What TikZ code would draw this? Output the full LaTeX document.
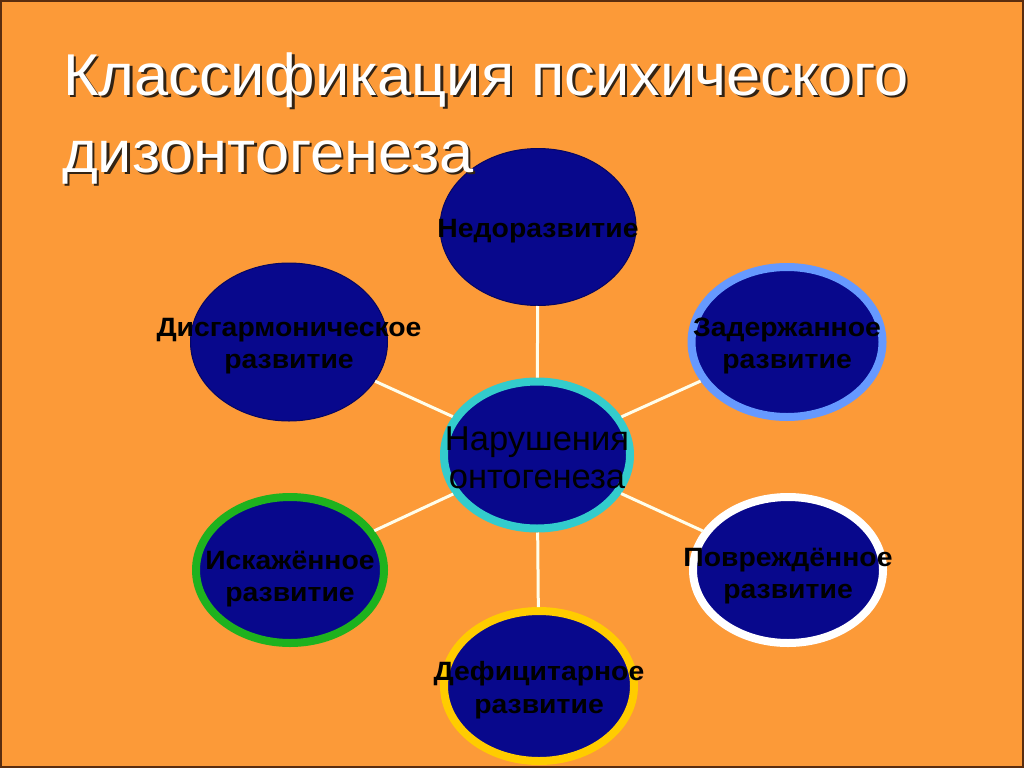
\documentclass[tikz,border=0pt]{standalone}
\usepackage{fontspec}
\setmainfont{Liberation Sans}
\newfontfamily\titlefont[FakeStretch=1.04]{Liberation Sans}
\newfontfamily\lblfont[FakeStretch=1.07]{Liberation Sans}
\usetikzlibrary{shapes.geometric}
\definecolor{bg}{RGB}{252,154,56}
\definecolor{blob}{RGB}{8,8,140}
\definecolor{framec}{RGB}{90,45,15}
\definecolor{ringcyan}{RGB}{51,204,204}
\definecolor{ringblue}{RGB}{102,153,255}
\definecolor{ringgreen}{RGB}{30,178,30}
\definecolor{ringyellow}{RGB}{255,204,0}
\definecolor{shadowc}{RGB}{50,35,20}
\newcommand\shadowtext[1]{\makebox[0pt][l]{\raisebox{-2.5pt}{\hspace{2.5pt}\textcolor{shadowc}{#1}}}#1}
\begin{document}
\begin{tikzpicture}[x=1pt,y=-1pt,
  blobshape/.style={ellipse, fill=blob, inner sep=0pt},
  plainblob/.style={blobshape, draw=blob!70!black, line width=1pt},
  ringblob/.style={blobshape, draw=#1, line width=8pt},
  lbl/.style={align=center, font=\lblfont\fontsize{26.5}{32.5}\selectfont\bfseries, text=black, inner sep=0pt, yshift=-4pt},
  clbl/.style={align=center, font=\fontsize{34.5}{38}\selectfont, text=black, inner sep=0pt, yshift=-3pt},
  link/.style={draw=white!92!yellow, line width=3pt},
  titlestyle/.style={anchor=base west, inner sep=0pt, text=white, font=\titlefont\fontsize{59}{72}\selectfont}]
\useasboundingbox (0,0) rectangle (1024,768);
\fill[bg] (0,0) rectangle (1024,768);
\draw[framec, line width=2pt] (1,1) rectangle (1023,767);

\node[plainblob, minimum width=196pt, minimum height=157pt,
  label={[lbl]center:Недоразвитие}] (top) at (538,227) {};
\node[plainblob, minimum width=197pt, minimum height=158pt,
  label={[lbl]center:Дисгармоническое\\развитие}] (dys) at (289,342) {};
\node[ringblob=ringblue, minimum width=191pt, minimum height=150pt,
  label={[lbl]center:Задержанное\\развитие}] (zad) at (787,342) {};
\node[ringblob=ringcyan, minimum width=186pt, minimum height=147pt,
  label={[clbl]center:Нарушения\\онтогенеза}] (cen) at (537,455) {};
\node[ringblob=ringgreen, minimum width=188pt, minimum height=146pt,
  label={[lbl,yshift=-5pt]center:Искажённое\\развитие}] (isk) at (290,570) {};
\node[ringblob=white, minimum width=190pt, minimum height=146pt,
  label={[lbl,yshift=-2pt]center:Повреждённое\\развитие}] (pov) at (788,570) {};
\node[ringblob=ringyellow, minimum width=190pt, minimum height=150pt,
  label={[lbl]center:Дефицитарное\\развитие}] (def) at (539,686) {};

\draw[link] (cen) -- (top);
\draw[link] (cen) -- (dys);
\draw[link] (cen) -- (zad);
\draw[link] (cen) -- (isk);
\draw[link] (cen) -- (pov);
\draw[link] (cen) -- (def);

\node[titlestyle] (title1) at (63,95) {\shadowtext{Классификация психического}};
\node[titlestyle] (title2) at (62,172) {\shadowtext{дизонтогенеза}};
\end{tikzpicture}
\end{document}
